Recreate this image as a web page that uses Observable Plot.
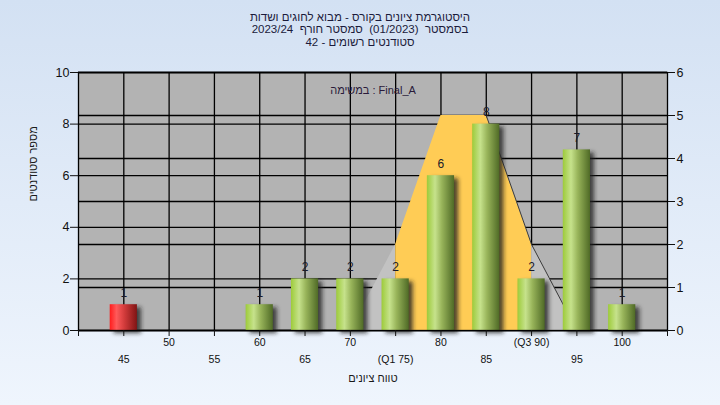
<!DOCTYPE html>
<html><head><meta charset="utf-8">
<script src="https://cdn.jsdelivr.net/npm/d3@7"></script>
<script src="https://cdn.jsdelivr.net/npm/@observablehq/plot@0.6"></script>
<style>
html,body{margin:0;padding:0;}
#wrap{position:relative;width:720px;height:405px;background:linear-gradient(#d3e1f3,#eff5fd);font-family:"Liberation Sans","DejaVu Sans",sans-serif;overflow:hidden}
#chart svg{position:absolute;left:0;top:0}
#title{position:absolute;left:0;top:11px;width:720px;text-align:center;font-size:11.5px;line-height:12.3px;color:#1b1b3b;direction:rtl;white-space:pre}
</style></head>
<body><div id="wrap"><div id="chart"></div><div id="title"></div></div>
<script>
// ---- data ----
const titleLines = [
  "היסטוגרמת ציונים בקורס - מבוא לחוגים ושדות",
  "בסמסטר  (01/2023)  סמסטר חורף  2023/24",
  "סטודנטים רשומים - 42"
];
const scores = [45, 50, 55, 60, 65, 70, 75, 80, 85, 90, 95, 100];
const counts = [1, 0, 0, 1, 2, 2, 2, 6, 8, 2, 7, 1];
const tickLabels = ["45", "50", "55", "60", "65", "70", "(Q1 75)", "80", "85", "(Q3 90)", "95", "100"];
const failLimit = 55;
const boxX = [75, 80, 85, 90];
const boxY = [2, 5, 5, 2];
const whiskerLX = [70, 75];
const whiskerLY = [0, 2];
const whiskerRX = [90, 95];
const whiskerRY = [2, 0];
const outlineX = [85, 90, 95];
const outlineY = [5, 2, 0];
const leftTicks = [0, 2, 4, 6, 8, 10];
const rightTicks = [0, 1, 2, 3, 4, 5, 6];
const axisTitleX = "טווח ציונים";
const axisTitleY = "מספר סטודנטים";
const note = "במשימה : Final_A";

document.getElementById("title").textContent = titleLines.join("\n");

// ---- chart ----
const R = 10 / 6; // right axis (0-6) onto left axis (0-10)
const bars = scores.map((x, i) => ({x, n: counts[i], i})).filter(d => d.n > 0);
const labels = scores.map((x, i) => ({x, label: tickLabels[i], i}));
const pts = (xs, ys) => xs.map((x, i) => ({x, y: ys[i] * R}));
const xTicks = [40, ...scores, 105];
const bx1 = d => d.x - 1.5, bx2 = d => d.x + 1.5;

const svg = Plot.plot({
  width: 720, height: 405,
  marginTop: 72, marginBottom: 75, marginLeft: 78, marginRight: 53,
  style: {background: "transparent", fontFamily: "'Liberation Sans','DejaVu Sans',sans-serif", fontSize: "12px", color: "#111", overflow: "visible"},
  x: {type: "linear", domain: [40, 105], axis: null},
  y: {domain: [0, 10], axis: null},
  marks: [
    Plot.frame({fill: "#b3b3b3"}),
    Plot.ruleY(leftTicks, {stroke: "#000", strokeWidth: 1.3}),
    Plot.ruleY(rightTicks.map(v => v * R), {stroke: "#000", strokeWidth: 1.3}),
    Plot.ruleX(scores, {stroke: "#000", strokeWidth: 1.3}),
    Plot.areaY(pts(whiskerLX, whiskerLY), {x: "x", y: "y", fill: "#c2c2c2"}),
    Plot.areaY(pts(whiskerRX, whiskerRY), {x: "x", y: "y", fill: "#c2c2c2"}),
    Plot.areaY(pts(boxX, boxY), {x: "x", y: "y", fill: "#ffcc55"}),
    Plot.line(pts(outlineX, outlineY), {x: "x", y: "y", stroke: "#3c3c3c", strokeWidth: 1}),
    Plot.rectY(bars, {x1: bx1, x2: bx2, y: "n", fill: "#222", fillOpacity: 0.8, dx: 4, dy: 3}),
    Plot.rectY(bars.filter(d => d.x < failLimit), {x1: bx1, x2: bx2, y: "n", fill: "red"}),
    Plot.rectY(bars.filter(d => d.x >= failLimit), {x1: bx1, x2: bx2, y: "n", fill: "green"}),
    Plot.text(bars, {x: "x", y: "n", text: d => String(d.n), dy: -12, fill: "#1a1a2a", fontSize: 12}),
    Plot.frame({stroke: "#000", strokeWidth: 1.3}),
    Plot.axisY({anchor: "left", ticks: leftTicks, tickSize: 8, tickPadding: 1, fontSize: 12.5, label: null}),
    Plot.axisY({anchor: "right", ticks: rightTicks.map(v => v * R), tickFormat: d => String(Math.round(d / R)), tickSize: 7, tickPadding: 2, fontSize: 12.5, label: null}),
    Plot.axisX({ticks: xTicks, tickSize: 6, tickFormat: () => "", label: null}),
    Plot.text(labels.filter(d => d.i % 2 === 1), {x: "x", text: "label", frameAnchor: "bottom", dy: 15, fontSize: 10.5, fill: "#111"}),
    Plot.text(labels.filter(d => d.i % 2 === 0), {x: "x", text: "label", frameAnchor: "bottom", dy: 32, fontSize: 10.5, fill: "#111"}),
    Plot.text([axisTitleX], {text: d => d, frameAnchor: "bottom", dy: 51, fontSize: 11, fill: "#1a1a1a"}),
    Plot.text([axisTitleY], {text: d => d, frameAnchor: "left", dx: -45, rotate: -90, fontSize: 11, fill: "#1a1a1a"}),
    Plot.text([note], {text: d => d, frameAnchor: "top", dy: 14, fontSize: 11, fill: "#2a1a3a"})
  ]
});

const s = d3.select(svg);
const defs = s.insert("defs", ":first-child");
const g1 = defs.append("linearGradient").attr("id", "gGreen").attr("x1", 0).attr("x2", 1).attr("y1", 0).attr("y2", 0);
[[0, "#9dcb3a"], [0.3, "#c6e28c"], [0.55, "#98b45a"], [1, "#4f6a26"]].forEach(([o, c]) => g1.append("stop").attr("offset", o).attr("stop-color", c));
const g2 = defs.append("linearGradient").attr("id", "gRed").attr("x1", 0).attr("x2", 1).attr("y1", 0).attr("y2", 0);
[[0, "#ff1c1c"], [0.25, "#ff5a5a"], [0.55, "#d03a3a"], [1, "#801414"]].forEach(([o, c]) => g2.append("stop").attr("offset", o).attr("stop-color", c));
const f = defs.append("filter").attr("id", "blur").attr("x", "-30%").attr("y", "-30%").attr("width", "160%").attr("height", "160%");
f.append("feGaussianBlur").attr("stdDeviation", 2);
s.selectAll('[fill="#222"]').attr("filter", "url(#blur)");
s.selectAll('[fill="green"]').attr("fill", "url(#gGreen)");
s.selectAll('[fill="red"]').attr("fill", "url(#gRed)");
document.getElementById("chart").appendChild(svg);
</script>
</body></html>
